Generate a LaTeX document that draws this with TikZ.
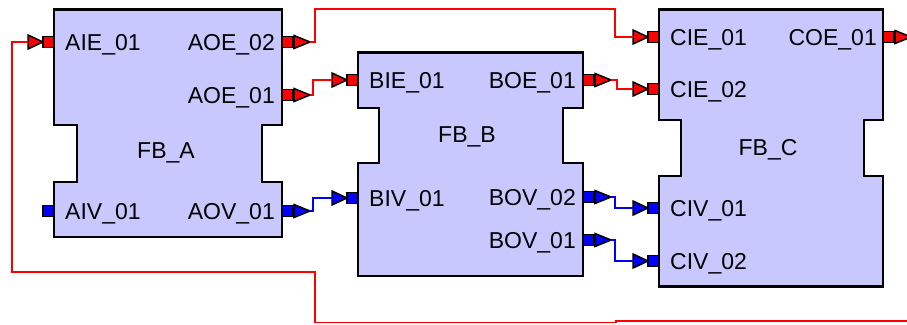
\documentclass[tikz,border=0pt]{standalone}
\usepackage{fontspec}
\setmainfont{Liberation Sans}
\definecolor{fbfill}{RGB}{200,200,255}
\definecolor{evred}{RGB}{255,0,0}
\definecolor{datblue}{RGB}{0,0,255}
\tikzset{
  fbbox/.style={draw=black, line width=2.4pt, fill=fbfill, line join=miter},
  psq/.style={draw=black, line width=1.6pt, minimum size=11pt, inner sep=0pt, outer sep=0pt, rectangle},
  ptri/.style={draw=black, line width=1.5pt, line join=miter},
  pbar/.style={draw=black, line width=2.6pt},
  lbl/.style={inner sep=0pt, font=\fontsize{23}{27}\selectfont},
  evline/.style={draw=evred, line width=1.5pt},
  datline/.style={draw=datblue, line width=1.5pt},
}
% input port: name, edge x, y, colour
\newcommand{\myportin}[4]{%
  \draw[ptri, fill=#4] (#2-26,#3-7) -- (#2-26,#3+7) -- (#2-11,#3) -- cycle;
  \node[psq, fill=#4] (#1) at (#2-5.5,#3) {};
  \coordinate (#1-end) at (#2-26,#3);
}
% input port without connection
\newcommand{\myportsq}[4]{%
  \node[psq, fill=#4] (#1) at (#2-5.5,#3) {};
}
% output port: name, edge x, y, colour
\newcommand{\myportout}[4]{%
  \node[psq, fill=#4] (#1) at (#2+5.5,#3) {};
  \draw[ptri, fill=#4] (#2+12,#3-6.5) -- (#2+12,#3+6.5) -- (#2+28,#3) -- cycle;
  \draw[pbar] (#2+12,#3-6.5) -- (#2+12,#3+6.5);
  \coordinate (#1-end) at (#2+28,#3);
}
\begin{document}
\begin{tikzpicture}[x=1pt, y=-1pt]
\useasboundingbox (0,0) rectangle (907,324);
\clip (0,0) rectangle (907,324);

\coordinate (wrap) at (907,320.8);

% ---- blocks ----
\draw[fbbox] (54,9.5) -- (282,9.5) -- (282,125) -- (262,125) -- (262,182) -- (282,182) -- (282,237)
  -- (54,237) -- (54,182) -- (77,182) -- (77,125) -- (54,125) -- cycle;
\draw[fbbox] (358,52.5) -- (583,52.5) -- (583,108) -- (563,108) -- (563,163) -- (583,163) -- (583,276)
  -- (358,276) -- (358,163) -- (379,163) -- (379,108) -- (358,108) -- cycle;
\draw[fbbox] (659,9.5) -- (883,9.5) -- (883,120) -- (864,120) -- (864,176) -- (883,176) -- (883,286.5)
  -- (659,286.5) -- (659,176) -- (681,176) -- (681,120) -- (659,120) -- cycle;

\node[lbl, anchor=base] (fba) at (166,158) {FB\_A};
\node[lbl, anchor=base] (fbb) at (467,142) {FB\_B};
\node[lbl, anchor=base] (fbc) at (768,155) {FB\_C};

% ---- ports ----
\myportin{aie01}{54}{42}{evred}
\myportsq{aiv01}{54}{211}{datblue}
\myportout{aoe02}{282}{42}{evred}
\myportout{aoe01}{282}{95}{evred}
\myportout{aov01}{282}{211}{datblue}

\myportin{bie01}{358}{80}{evred}
\myportin{biv01}{358}{198}{datblue}
\myportout{boe01}{583}{80}{evred}
\myportout{bov02}{583}{197}{datblue}
\myportout{bov01}{583}{240}{datblue}

\myportin{cie01}{659}{37}{evred}
\myportin{cie02}{659}{89}{evred}
\myportin{civ01}{659}{208}{datblue}
\myportin{civ02}{659}{261}{datblue}
\myportout{coe01}{883}{37}{evred}

% ---- port labels ----
\node[lbl, anchor=base west] (taie01) at (65,50) {AIE\_01};
\node[lbl, anchor=base west] (taiv01) at (65,219) {AIV\_01};
\node[lbl, anchor=base east] (taoe02) at (275,50) {AOE\_02};
\node[lbl, anchor=base east] (taoe01) at (275,103) {AOE\_01};
\node[lbl, anchor=base east] (taov01) at (275,219) {AOV\_01};

\node[lbl, anchor=base west] (tbie01) at (369,88) {BIE\_01};
\node[lbl, anchor=base west] (tbiv01) at (369,206) {BIV\_01};
\node[lbl, anchor=base east] (tboe01) at (576,88) {BOE\_01};
\node[lbl, anchor=base east] (tbov02) at (576,205) {BOV\_02};
\node[lbl, anchor=base east] (tbov01) at (576,248) {BOV\_01};

\node[lbl, anchor=base west] (tcie01) at (670,45) {CIE\_01};
\node[lbl, anchor=base west] (tcie02) at (670,97) {CIE\_02};
\node[lbl, anchor=base west] (tciv01) at (670,216) {CIV\_01};
\node[lbl, anchor=base west] (tciv02) at (670,269) {CIV\_02};
\node[lbl, anchor=base east] (tcoe01) at (877,45) {COE\_01};

% ---- connections ----
\draw[evline] (aoe02-end) -- ++(5,0) |- (615,9) |- (cie01-end);
\draw[evline] (aoe01-end) -- ++(3,0) |- (bie01-end);
\draw[evline] (boe01-end) -- ++(6,0) |- (cie02-end);
\draw[datline] (aov01-end) -- ++(3,0) |- (biv01-end);
\draw[datline] (bov02-end) -- ++(4,0) |- (civ01-end);
\draw[datline] (bov01-end) -- ++(4,0) |- (civ02-end);
\draw[evline] (wrap) -- (616,320.8) -- (616,322.6) -- (315,322.6) |- (12,272) |- (aie01-end);
\end{tikzpicture}
\end{document}
